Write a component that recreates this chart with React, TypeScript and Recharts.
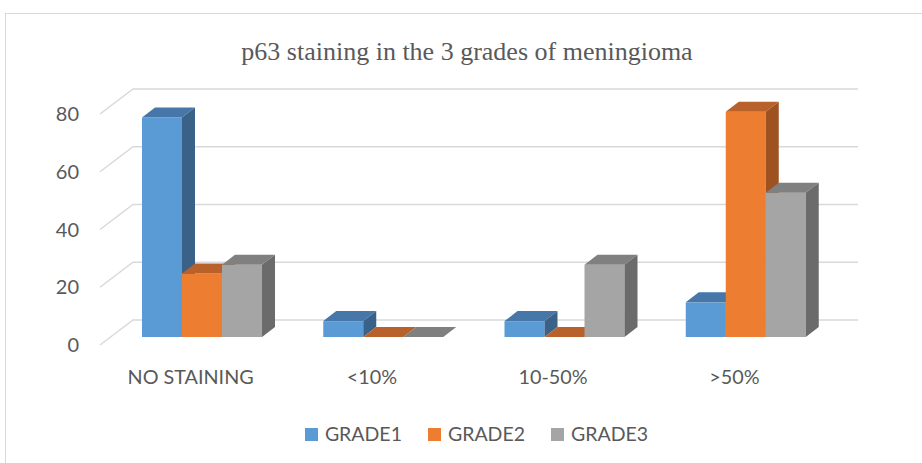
import React from 'react';
import { BarChart, Bar, XAxis, YAxis, CartesianGrid } from 'recharts';

const categories = ['NO STAINING', '<10%', '10-50%', '>50%'];
const grade1 = [76, 5.5, 5.5, 12];
const grade2 = [22, 0, 0, 78];
const grade3 = [25, 0, 25, 50];
const yTicks = [0, 20, 40, 60, 80];

const series = [
  { key: 'GRADE1', values: grade1, face: '#5B9BD5', top: '#4677A8', side: '#3A6187' },
  { key: 'GRADE2', values: grade2, face: '#ED7D31', top: '#B8612A', side: '#9E5220' },
  { key: 'GRADE3', values: grade3, face: '#A5A5A5', top: '#808080', side: '#6B6B6B' },
];

const data = categories.map((name, i) => {
  const row: any = { name };
  series.forEach((s) => { row[s.key] = s.values[i]; });
  return row;
});

// depth of a bar box, and where the front/back planes sit relative to the bars
const DX = 13, DY = -10;
const FRONT_X = -11, FRONT_Y = 8;
const BACK_X = 22, BACK_Y = -17;

const TEXT = '#595959';
const GRID = '#D9D9D9';
const FONT = 'Lato, "Open Sans", sans-serif';

const Box3D = (props: any) => {
  const { x, y, width, height, face, top, side } = props;
  if (x == null || y == null) return null;
  const h = Math.max(0, height || 0);
  const x2 = x + width;
  const yb = y + h;
  return (
    <g>
      {h > 0 && <rect x={x} y={y} width={width} height={h} fill={face} />}
      <polygon points={`${x},${y} ${x2},${y} ${x2 + DX},${y + DY} ${x + DX},${y + DY}`} fill={top} />
      {h > 0 && (
        <polygon points={`${x2},${y} ${x2 + DX},${y + DY} ${x2 + DX},${yb + DY} ${x2},${yb}`} fill={side} />
      )}
    </g>
  );
};

const GridLine = (props: any) => {
  const { x1, y1, x2, index } = props;
  const d = `M${x1 + FRONT_X},${y1 + FRONT_Y} L${x1 + BACK_X},${y1 + BACK_Y} L${x2 + BACK_X},${y1 + BACK_Y}`;
  return <path key={`g-${index}-${y1}`} d={d} stroke={GRID} strokeWidth={1.5} fill="none" />;
};

const YTick = (props: any) => {
  const { y, payload } = props;
  return (
    <text x={79} y={y + FRONT_Y + 7} textAnchor="end" fill={TEXT} fontSize={20} fontFamily={FONT}>
      {payload.value}
    </text>
  );
};

const XTick = (props: any) => {
  const { x, payload } = props;
  return (
    <text x={x + FRONT_X} y={384} textAnchor="middle" fill={TEXT} fontSize={19.8} fontFamily={FONT}>
      {payload.value}
    </text>
  );
};

export default function App() {
  return (
    <div style={{ position: 'relative', width: 922, height: 463, overflow: 'hidden', background: '#fff' }}>
      <style>{'body{margin:0}'}</style>
      <div
        style={{
          position: 'absolute', left: 5, top: 13, width: 940, height: 480,
          border: '1px solid #D9D9D9', boxSizing: 'border-box',
        }}
      />
      <div
        style={{
          position: 'absolute', left: 0, top: 37, width: 934, textAlign: 'center', lineHeight: '30px',
          fontFamily: '"Liberation Serif", "Times New Roman", serif', fontSize: 26, color: TEXT,
        }}
      >
        p63 staining in the 3 grades of meningioma
      </div>
      <div style={{ position: 'absolute', left: 0, top: 0 }}>
        <BarChart
          width={922}
          height={463}
          data={data}
          margin={{ top: 106, right: 86, left: 51, bottom: 86 }}
          barGap={0}
        >
          <CartesianGrid vertical={false} horizontal={GridLine} />
          <XAxis dataKey="name" axisLine={false} tickLine={false} tick={XTick} height={40} interval={0} />
          <YAxis
            domain={[0, 80]}
            ticks={yTicks}
            axisLine={false}
            tickLine={false}
            tick={YTick}
            width={60}
          />
          {series.map((s) => (
            <Bar
              key={s.key}
              dataKey={s.key}
              barSize={40}
              fill={s.face}
              isAnimationActive={false}
              shape={(p: any) => <Box3D {...p} face={s.face} top={s.top} side={s.side} />}
            />
          ))}
        </BarChart>
      </div>
      <div
        style={{
          position: 'absolute', left: 0, top: 422, width: 953, height: 24, display: 'flex',
          justifyContent: 'center', fontFamily: FONT, fontSize: 19.5, lineHeight: '24px', color: TEXT,
        }}
      >
        {series.map((s) => (
          <div key={s.key} style={{ display: 'flex', alignItems: 'center', margin: '0 13px' }}>
            <span style={{ width: 13, height: 13, background: s.face, display: 'inline-block', marginRight: 7 }} />
            <span>{s.key}</span>
          </div>
        ))}
      </div>
    </div>
  );
}
